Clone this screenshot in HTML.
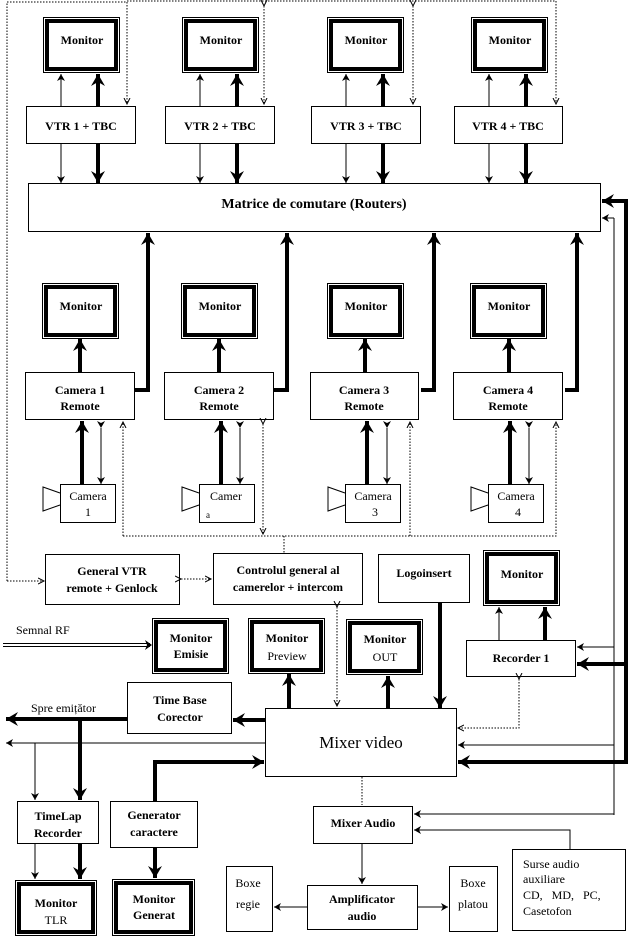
<!DOCTYPE html>
<html><head><meta charset="utf-8"><style>
html,body{margin:0;padding:0;background:#fff}
svg{display:block}
text{font-family:"Liberation Serif",serif;font-size:12px;font-weight:bold;fill:#000}
.n{font-weight:normal}
.b{fill:#fff;stroke:#000;stroke-width:1}
.t{stroke:#000;stroke-width:1;fill:none}
.T{stroke:#000;stroke-width:4;fill:none}
.d{stroke:#000;stroke-width:1;fill:none;stroke-dasharray:1.5 1.5}
</style></head><body>
<svg width="629" height="939" viewBox="0 0 629 939" xmlns="http://www.w3.org/2000/svg">
<defs>
<marker id="a" markerUnits="userSpaceOnUse" markerWidth="8" markerHeight="8" refX="7" refY="4" orient="auto"><path d="M0,0 L7,4 L0,8 L2,4 z" fill="#000"/></marker>
<marker id="A" markerUnits="userSpaceOnUse" markerWidth="14" markerHeight="14" refX="12" refY="7" orient="auto"><path d="M0,0 L12,7 L0,14 L4,7 z" fill="#000"/></marker>
<marker id="o" markerUnits="userSpaceOnUse" markerWidth="8" markerHeight="8" refX="6" refY="4" orient="auto"><path d="M0,1 L6,4 L0,7" fill="none" stroke="#000" stroke-width="1"/></marker>
<g id="mon"><rect x="0.5" y="0.5" width="76" height="55" fill="#fff" stroke="#000"/><rect x="4" y="4" width="69" height="48" fill="none" stroke="#000" stroke-width="4"/></g>
</defs>

<!-- top monitors -->
<use href="#mon" x="43" y="17"/><text x="82" y="44" text-anchor="middle">Monitor</text>
<use href="#mon" x="182" y="17"/><text x="221" y="44" text-anchor="middle">Monitor</text>
<use href="#mon" x="327" y="17"/><text x="366" y="44" text-anchor="middle">Monitor</text>
<use href="#mon" x="471" y="17"/><text x="510" y="44" text-anchor="middle">Monitor</text>

<!-- VTRs -->
<rect class="b" x="26.5" y="106.5" width="109" height="37"/><text x="81" y="130" text-anchor="middle">VTR 1 + TBC</text>
<rect class="b" x="165.5" y="106.5" width="109" height="37"/><text x="220" y="130" text-anchor="middle">VTR 2 + TBC</text>
<rect class="b" x="311.5" y="106.5" width="109" height="37"/><text x="366" y="130" text-anchor="middle">VTR 3 + TBC</text>
<rect class="b" x="454.5" y="106.5" width="108" height="37"/><text x="508" y="130" text-anchor="middle">VTR 4 + TBC</text>

<g>
<line class="t" x1="61" y1="106" x2="61" y2="74" marker-end="url(#a)"/><line class="T" x1="98" y1="106" x2="98" y2="74" marker-end="url(#A)"/>
<line class="t" x1="200" y1="106" x2="200" y2="74" marker-end="url(#a)"/><line class="T" x1="237" y1="106" x2="237" y2="74" marker-end="url(#A)"/>
<line class="t" x1="346" y1="106" x2="346" y2="74" marker-end="url(#a)"/><line class="T" x1="383" y1="106" x2="383" y2="74" marker-end="url(#A)"/>
<line class="t" x1="489" y1="106" x2="489" y2="74" marker-end="url(#a)"/><line class="T" x1="526" y1="106" x2="526" y2="74" marker-end="url(#A)"/>
<line class="t" x1="61" y1="144" x2="61" y2="183" marker-end="url(#a)"/><line class="T" x1="98" y1="144" x2="98" y2="183" marker-end="url(#A)"/>
<line class="t" x1="200" y1="144" x2="200" y2="183" marker-end="url(#a)"/><line class="T" x1="237" y1="144" x2="237" y2="183" marker-end="url(#A)"/>
<line class="t" x1="346" y1="144" x2="346" y2="183" marker-end="url(#a)"/><line class="T" x1="383" y1="144" x2="383" y2="183" marker-end="url(#A)"/>
<line class="t" x1="489" y1="144" x2="489" y2="183" marker-end="url(#a)"/><line class="T" x1="526" y1="144" x2="526" y2="183" marker-end="url(#A)"/>
</g>

<!-- Matrix -->
<rect class="b" x="28.5" y="183.5" width="572" height="48"/>
<text x="314" y="208" text-anchor="middle" style="font-size:14px">Matrice de comutare (Routers)</text>

<!-- top dotted -->
<path class="d" d="M7,939 M7,581 L7,2 L127,2 L127,104" marker-end="url(#o)"/>
<path class="d" d="M127,1 L556,1 L556,104" marker-end="url(#o)"/>
<line class="d" x1="264" y1="6" x2="264" y2="104" marker-start="url(#o)" marker-end="url(#o)"/>
<line class="d" x1="413" y1="6" x2="413" y2="104" marker-start="url(#o)" marker-end="url(#o)"/>
<path class="d" d="M7,581 L44,581" marker-end="url(#o)"/>

<!-- camera monitors -->
<use href="#mon" x="42" y="283"/><text x="81" y="310" text-anchor="middle">Monitor</text>
<use href="#mon" x="181" y="283"/><text x="220" y="310" text-anchor="middle">Monitor</text>
<use href="#mon" x="327" y="283"/><text x="366" y="310" text-anchor="middle">Monitor</text>
<use href="#mon" x="470" y="283"/><text x="509" y="310" text-anchor="middle">Monitor</text>

<!-- camera remotes -->
<rect class="b" x="25.5" y="372.5" width="109" height="47"/><text x="80" y="394" text-anchor="middle">Camera 1</text><text x="80" y="410" text-anchor="middle">Remote</text>
<rect class="b" x="164.5" y="372.5" width="109" height="47"/><text x="219" y="394" text-anchor="middle">Camera 2</text><text x="219" y="410" text-anchor="middle">Remote</text>
<rect class="b" x="310.5" y="372.5" width="108" height="47"/><text x="364" y="394" text-anchor="middle">Camera 3</text><text x="364" y="410" text-anchor="middle">Remote</text>
<rect class="b" x="453.5" y="372.5" width="109" height="47"/><text x="508" y="394" text-anchor="middle">Camera 4</text><text x="508" y="410" text-anchor="middle">Remote</text>

<g>
<line class="T" x1="80" y1="372" x2="80" y2="339" marker-end="url(#A)"/>
<line class="T" x1="219" y1="372" x2="219" y2="339" marker-end="url(#A)"/>
<line class="T" x1="365" y1="372" x2="365" y2="339" marker-end="url(#A)"/>
<line class="T" x1="509" y1="372" x2="509" y2="339" marker-end="url(#A)"/>
<path class="T" d="M135,390 L148,390 L148,233" marker-end="url(#A)"/>
<path class="T" d="M274,390 L287,390 L287,233" marker-end="url(#A)"/>
<path class="T" d="M421,390 L434,390 L434,233" marker-end="url(#A)"/>
<path class="T" d="M565,390 L577,390 L577,233" marker-end="url(#A)"/>
</g>

<!-- cameras -->
<g>
<rect class="b" x="60.5" y="484.5" width="55" height="38"/><path class="b" d="M60,493 L43,487 L43,511 L60,505"/><text class="n" x="88" y="500" text-anchor="middle">Camera</text><text class="n" x="88" y="516" text-anchor="middle">1</text>
<rect class="b" x="199.5" y="484.5" width="55" height="38"/><path class="b" d="M199,493 L182,487 L182,511 L199,505"/><text class="n" x="226" y="500" text-anchor="middle">Camer</text><text class="n" x="206" y="518" style="font-size:9px">a</text>
<rect class="b" x="345.5" y="484.5" width="55" height="38"/><path class="b" d="M345,493 L328,487 L328,511 L345,505"/><text class="n" x="373" y="500" text-anchor="middle">Camera</text><text class="n" x="375" y="516" text-anchor="middle">3</text>
<rect class="b" x="488.5" y="484.5" width="55" height="38"/><path class="b" d="M488,493 L471,487 L471,511 L488,505"/><text class="n" x="516" y="500" text-anchor="middle">Camera</text><text class="n" x="518" y="516" text-anchor="middle">4</text>
</g>
<g>
<line class="T" x1="82" y1="484" x2="82" y2="421" marker-end="url(#A)"/>
<line class="t" x1="101" y1="428" x2="101" y2="484" marker-start="url(#a)" marker-end="url(#a)"/>
<line class="T" x1="221" y1="484" x2="221" y2="421" marker-end="url(#A)"/>
<line class="t" x1="240" y1="428" x2="240" y2="484" marker-start="url(#a)" marker-end="url(#a)"/>
<line class="T" x1="367" y1="484" x2="367" y2="421" marker-end="url(#A)"/>
<line class="t" x1="387" y1="428" x2="387" y2="484" marker-start="url(#a)" marker-end="url(#a)"/>
<line class="T" x1="510" y1="484" x2="510" y2="421" marker-end="url(#A)"/>
<line class="t" x1="529" y1="428" x2="529" y2="484" marker-start="url(#a)" marker-end="url(#a)"/>
</g>
<!-- camera dotted -->
<path class="d" d="M123,536 L123,422" marker-end="url(#o)"/>
<path class="d" d="M123,536 L556,536 L556,422" marker-end="url(#o)"/>
<line class="d" x1="263" y1="424" x2="263" y2="534" marker-start="url(#o)" marker-end="url(#o)"/>
<path class="d" d="M410,536 L410,422" marker-end="url(#o)"/>
<line class="d" x1="284" y1="536" x2="284" y2="553"/>

<!-- middle row -->
<rect class="b" x="45.5" y="554.5" width="134" height="50"/><text x="112" y="575" text-anchor="middle">General VTR</text><text x="112" y="592" text-anchor="middle">remote + Genlock</text>
<rect class="b" x="213.5" y="553.5" width="149" height="51"/><text x="288" y="574" text-anchor="middle">Controlul general al</text><text x="288" y="591" text-anchor="middle">camerelor + intercom</text>
<line class="d" x1="181" y1="579" x2="211" y2="579" marker-start="url(#o)" marker-end="url(#o)"/>
<rect class="b" x="378.5" y="554.5" width="91" height="48"/><text x="424" y="577" text-anchor="middle">Logoinsert</text>
<use href="#mon" x="483" y="550"/><text x="522" y="578" text-anchor="middle">Monitor</text>
<rect class="b" x="466.5" y="640.5" width="109" height="36"/><text x="521" y="662" text-anchor="middle">Recorder 1</text>
<line class="t" x1="499" y1="640" x2="499" y2="607" marker-end="url(#a)"/>
<line class="T" x1="545" y1="640" x2="545" y2="607" marker-end="url(#A)"/>

<!-- RF -->
<text class="n" x="16" y="634">Semnal RF</text>
<line class="t" x1="3" y1="643.5" x2="150" y2="643.5"/><line class="t" x1="3" y1="646.5" x2="150" y2="646.5"/>
<path d="M152,645 L145,640 L147,645 L145,650 z" fill="#000"/>
<use href="#mon" x="152" y="618"/><text x="191" y="642" text-anchor="middle">Monitor</text><text x="191" y="658" text-anchor="middle">Emisie</text>
<use href="#mon" x="248" y="618"/><text x="287" y="642" text-anchor="middle">Monitor</text><text class="n" x="287" y="660" text-anchor="middle">Preview</text>
<use href="#mon" x="346" y="619"/><text x="385" y="643" text-anchor="middle">Monitor</text><text class="n" x="385" y="661" text-anchor="middle">OUT</text>

<!-- TBC and mixer -->
<rect class="b" x="127.5" y="682.5" width="104" height="51"/><text x="180" y="704" text-anchor="middle">Time Base</text><text x="180" y="721" text-anchor="middle">Corector</text>
<rect class="b" x="265.5" y="708.5" width="191" height="68"/><text class="n" x="361" y="748" text-anchor="middle" style="font-size:17px">Mixer video</text>
<line class="T" x1="265" y1="720" x2="233" y2="720" marker-end="url(#A)"/>
<line class="T" x1="127" y1="719" x2="6" y2="719" marker-end="url(#A)"/>
<text class="n" x="31" y="712">Spre emițător</text>
<line class="t" x1="265" y1="743" x2="6" y2="743" marker-end="url(#a)"/>
<line class="T" x1="80" y1="719" x2="80" y2="800" marker-end="url(#A)"/>
<line class="t" x1="35" y1="743" x2="35" y2="800" marker-end="url(#a)"/>
<path class="T" d="M155,801 L155,762 L264,762" marker-end="url(#A)"/>
<line class="T" x1="289" y1="708" x2="289" y2="674" marker-end="url(#A)"/>
<line class="T" x1="388" y1="708" x2="388" y2="676" marker-end="url(#A)"/>
<line class="T" x1="440" y1="603" x2="440" y2="708" marker-end="url(#A)"/>
<line class="d" x1="337" y1="607" x2="337" y2="706" marker-start="url(#o)" marker-end="url(#o)"/>
<path class="d" d="M519,679 L519,728 L458,728" marker-start="url(#o)" marker-end="url(#o)"/>

<!-- right rails -->
<line class="t" x1="614" y1="218" x2="614" y2="815"/>
<line class="t" x1="614" y1="218" x2="602" y2="218" marker-end="url(#a)"/>
<path class="T" d="M626,201 L626,762"/>
<line class="T" x1="628" y1="201" x2="602" y2="201" marker-end="url(#A)"/>
<line class="t" x1="614" y1="647" x2="577" y2="647" marker-end="url(#a)"/>
<line class="T" x1="626" y1="664" x2="577" y2="664" marker-end="url(#A)"/>
<line class="t" x1="614" y1="745" x2="458" y2="745" marker-end="url(#a)"/>
<line class="T" x1="628" y1="762" x2="458" y2="762" marker-end="url(#A)"/>

<!-- TLR / generator -->
<rect class="b" x="17.5" y="801.5" width="81" height="42"/><text x="58" y="820" text-anchor="middle">TimeLap</text><text x="58" y="837" text-anchor="middle">Recorder</text>
<rect class="b" x="110.5" y="801.5" width="87" height="46"/><text x="154" y="819" text-anchor="middle">Generator</text><text x="154" y="836" text-anchor="middle">caractere</text>
<line class="t" x1="35" y1="844" x2="35" y2="879" marker-end="url(#a)"/>
<line class="T" x1="80" y1="844" x2="80" y2="879" marker-end="url(#A)"/>
<line class="T" x1="155" y1="848" x2="155" y2="878" marker-end="url(#A)"/>
<g><rect x="15.5" y="880.5" width="81" height="55" fill="#fff" stroke="#000"/><rect x="19" y="884" width="74" height="48" fill="none" stroke="#000" stroke-width="4"/></g>
<text x="56" y="907" text-anchor="middle">Monitor</text><text class="n" x="56" y="924" text-anchor="middle">TLR</text>
<g><rect x="112.5" y="879.5" width="82" height="56" fill="#fff" stroke="#000"/><rect x="116" y="883" width="75" height="49" fill="none" stroke="#000" stroke-width="4"/></g>
<text x="154" y="903" text-anchor="middle">Monitor</text><text x="154" y="919" text-anchor="middle">Generat</text>

<!-- audio -->
<line class="d" x1="362" y1="777" x2="362" y2="805"/>
<rect class="b" x="313.5" y="806.5" width="99" height="37"/><text x="363" y="827" text-anchor="middle">Mixer Audio</text>
<line class="t" x1="614" y1="814" x2="414" y2="814" marker-end="url(#a)"/>
<path class="t" d="M570,849 L570,830 L414,830" marker-end="url(#a)"/>
<rect class="b" x="512.5" y="849.5" width="113" height="81"/>
<text class="n" x="523" y="868">Surse audio</text><text class="n" x="523" y="883">auxiliare</text>
<text class="n" x="523" y="899">CD,&#160;&#160;&#160;MD,&#160;&#160;&#160;PC,</text><text class="n" x="523" y="915">Casetofon</text>
<line class="t" x1="362" y1="844" x2="362" y2="884" marker-end="url(#a)"/>
<rect class="b" x="307.5" y="885.5" width="110" height="44"/><text x="362" y="903" text-anchor="middle">Amplificator</text><text x="362" y="920" text-anchor="middle">audio</text>
<rect class="b" x="226.5" y="866.5" width="46" height="65"/><text class="n" x="248" y="887" text-anchor="middle">Boxe</text><text class="n" x="248" y="908" text-anchor="middle">regie</text>
<rect class="b" x="449.5" y="866.5" width="48" height="65"/><text class="n" x="473" y="887" text-anchor="middle">Boxe</text><text class="n" x="473" y="908" text-anchor="middle">platou</text>
<line class="t" x1="307" y1="907" x2="274" y2="907" marker-end="url(#a)"/>
<line class="t" x1="418" y1="907" x2="448" y2="907" marker-end="url(#a)"/>
</svg>
</body></html>
